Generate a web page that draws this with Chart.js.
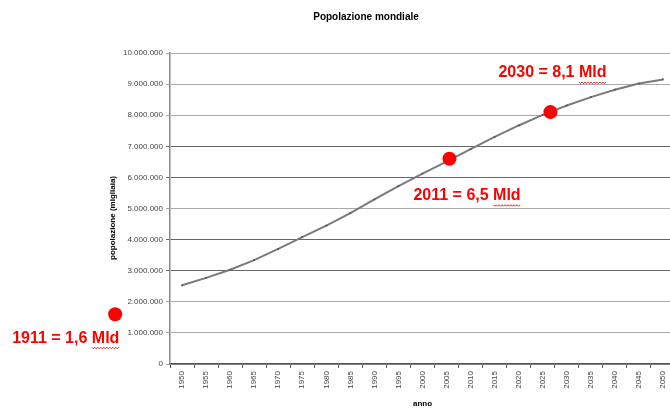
<!DOCTYPE html>
<html>
<head>
<meta charset="utf-8">
<script src="https://cdn.jsdelivr.net/npm/chart.js@4/dist/chart.umd.min.js"></script>
<style>
  html, body { margin: 0; padding: 0; background: #fff; overflow: hidden; }
</style>
</head>
<body>
<canvas id="myChart" width="680" height="408"></canvas>
<script>
// data (population in thousands)
let anni = ['1950','1955','1960','1965','1970','1975','1980','1985','1990','1995','2000',
            '2005','2010','2015','2020','2025','2030','2035','2040','2045','2050'];
let popolazione = [2530000, 2770000, 3030000, 3340000, 3700000, 4080000, 4450000, 4850000,
                   5290000, 5720000, 6120000, 6510000, 6910000, 7300000, 7670000, 8010000,
                   8310000, 8580000, 8820000, 9020000, 9150000];

// red markers pasted on the chart (x = where they sit along the year axis)
let puntiAnno = [1936.1, 2005.6, 2026.6];
let puntiValore = [1600000, 6600000, 8100000];
let puntiTesto = ['1911 = 1,6 Mld', '2011 = 6,5 Mld', '2030 = 8,1 Mld'];

let titolo = 'Popolazione mondiale';
let titoloY = 'popolazione (migliaia)';
let titoloX = 'anno';

let font = '"Liberation Sans", Arial, sans-serif';
let darkLines = [3000000, 4000000, 6000000, 7000000];

// text offsets from each red dot
let offsets = [[-103, 24], [-36, 37], [-52, -39]];

let fmt = v => String(v).replace(/\B(?=(\d{3})+(?!\d))/g, '.');

// red dots + labels (the 1911 one sits left of the axis, outside the
// chart area, so chart.js would not draw it as a dataset point)
let redMarks = {
  id: 'redMarks',
  afterDatasetsDraw(chart) {
    let c = chart.ctx;
    let xs = chart.scales.xd, ys = chart.scales.y;
    c.save();
    c.fillStyle = '#ff0000';
    c.strokeStyle = '#ff0000';
    c.font = 'bold 16px ' + font;
    c.textAlign = 'left';
    c.textBaseline = 'middle';
    c.lineWidth = 0.9;
    puntiAnno.forEach((a, i) => {
      let px = xs.getPixelForValue(a);
      let py = ys.getPixelForValue(puntiValore[i]);
      c.beginPath();
      c.arc(px, py, 7, 0, Math.PI * 2);
      c.fill();

      let tx = px + offsets[i][0];
      let ty = py + offsets[i][1];
      c.fillText(puntiTesto[i], tx, ty);
      // spell-check squiggle under "Mld"
      let wAll = c.measureText(puntiTesto[i]).width;
      let wM = c.measureText('Mld').width;
      let x0 = tx + wAll - wM, x1 = tx + wAll;
      let yy = ty + 9;
      c.beginPath();
      c.moveTo(x0, yy);
      let k = 0;
      for (let x = x0 + 1.5; x <= x1; x += 1.5) {
        k++;
        c.lineTo(x, yy + (k % 2 ? 1.5 : 0));
      }
      c.stroke();
    });
    c.restore();
  },
  afterDraw(chart) {
    let c = chart.ctx;
    c.save();
    c.fillStyle = '#000';
    c.textAlign = 'center';
    c.textBaseline = 'middle';
    c.font = 'bold 10px ' + font;
    c.fillText(titolo, 366, 17);

    c.font = 'bold 8px ' + font;
    c.fillText(titoloX, (chart.chartArea.left + chart.chartArea.right) / 2, 404);

    c.translate(113, 218);
    c.rotate(-Math.PI / 2);
    c.fillText(titoloY, 0, 0);
    c.restore();
  }
};

let ctx = document.getElementById('myChart').getContext('2d');

let chart = new Chart(ctx, {
  type: 'line',
  data: {
    labels: anni,
    datasets: [{
      data: popolazione,
      borderColor: '#7a7a7a',
      borderWidth: 2,
      lineTension: 0,
      fill: false,
      pointStyle: 'rect',
      pointRadius: 1.2,
      pointBackgroundColor: '#555',
      pointBorderColor: '#555',
      pointBorderWidth: 0
    }]
  },
  options: {
    responsive: false,
    animation: false,
    devicePixelRatio: 1,
    layout: { padding: { top: 53, right: 5, left: 0, bottom: 0 } },
    plugins: {
      legend: { display: false },
      tooltip: { enabled: false },
      title: { display: false }
    },
    scales: {
      x: {
        type: 'category',
        offset: true,
        grid: { offset: true, drawOnChartArea: false, tickLength: 4, color: '#555' },
        border: { color: '#555', width: 1.5 },
        ticks: {
          autoSkip: false, minRotation: 90, maxRotation: 90,
          font: { size: 8, family: font }, color: '#444', padding: 3
        },
        afterFit: s => { s.height = 44; }
      },
      xd: {
        type: 'linear',
        display: false,
        min: 1947.5,
        max: 2052.5
      },
      y: {
        min: 0,
        max: 10000000,
        ticks: {
          stepSize: 1000000,
          font: { size: 8, family: font },
          color: '#444',
          padding: 3,
          callback: v => fmt(v)
        },
        grid: {
          tickLength: 4,
          lineWidth: 1,
          color: c => darkLines.includes(c.tick && c.tick.value) ? '#666' : '#aaa'
        },
        border: { color: '#888', width: 1.5 },
        afterFit: s => { s.width = 170; }
      }
    }
  },
  plugins: [redMarks]
});
</script>
</body>
</html>
